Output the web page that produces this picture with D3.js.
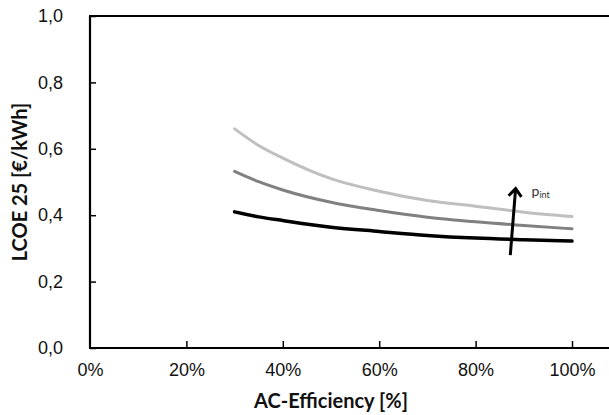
<!DOCTYPE html>
<html>
<head>
<meta charset="utf-8">
<script src="https://cdn.jsdelivr.net/npm/d3@7"></script>
<style>
  body { margin: 0; background: #fff; }
  svg { display: block; font-family: Lato, "Open Sans", sans-serif; }
</style>
</head>
<body>
<div id="chart"></div>
<script>
// AC efficiency (%) and LCOE 25 values
const efficiency = [30, 35, 40, 50, 60, 70, 80, 90, 100];
const lcoeLow  = [0.410, 0.395, 0.384, 0.364, 0.351, 0.339, 0.331, 0.326, 0.322];
const lcoeMid  = [0.532, 0.501, 0.476, 0.439, 0.414, 0.394, 0.380, 0.369, 0.359];
const lcoeHigh = [0.660, 0.610, 0.572, 0.510, 0.472, 0.444, 0.427, 0.409, 0.396];

const xTicks = [0, 20, 40, 60, 80, 100];
const yTicks = [0, 0.2, 0.4, 0.6, 0.8, 1.0];

// arrow annotation (data coordinates)
const arrowFrom = [87.2, 0.28];
const arrowTo = [88.3, 0.48];

const series = [
  { name: "low", values: lcoeLow, color: "#000000", w: 3.5 },
  { name: "mid", values: lcoeMid, color: "#808080", w: 3 },
  { name: "high", values: lcoeHigh, color: "#bfbfbf", w: 3 }
];

const W = 609, H = 415;
const margin = { top: 16, right: 37, bottom: 67, left: 90 };

const x = d3.scaleLinear().domain([0, 100]).range([margin.left, W - margin.right]);
const y = d3.scaleLinear().domain([0, 1]).range([H - margin.bottom, margin.top]);

const svg = d3.select("#chart")
  .append("svg")
  .attr("width", W)
  .attr("height", H);

const comma = d => d3.format(".1f")(d).replace(".", ",");

// x axis
const xAxis = svg.append("g")
  .attr("transform", `translate(0, ${y(0)})`)
  .call(d3.axisBottom(x).tickValues(xTicks).tickSize(-7).tickPadding(15).tickFormat(d => d + "%"));
xAxis.select(".domain").remove();
xAxis.selectAll("line").attr("stroke", "#000").attr("stroke-width", 1.5);
xAxis.selectAll("text").style("font-size", "18px").attr("fill", "#111");
xAxis.selectAll(".tick").filter(d => d === 0).select("line").remove();

// y axis
const yAxis = svg.append("g")
  .attr("transform", `translate(${x(0)}, 0)`)
  .call(d3.axisLeft(y).tickValues(yTicks).tickSize(-6).tickPadding(27).tickFormat(comma));
yAxis.select(".domain").remove();
yAxis.selectAll("line").attr("stroke", "#000").attr("stroke-width", 1.5);
yAxis.selectAll("text").style("font-size", "18px").attr("fill", "#111");

// frame lines: left, bottom, top
svg.append("line")
  .attr("x1", x(0)).attr("x2", x(0))
  .attr("y1", y(1)).attr("y2", y(0))
  .attr("stroke", "#000").attr("stroke-width", 2.2);
svg.append("line")
  .attr("x1", x(0) - 1).attr("x2", W)
  .attr("y1", y(0)).attr("y2", y(0))
  .attr("stroke", "#000").attr("stroke-width", 2.2);
svg.append("line")
  .attr("x1", x(0) - 1).attr("x2", W)
  .attr("y1", y(1)).attr("y2", y(1))
  .attr("stroke", "#000").attr("stroke-width", 2.2);

// curves
const line = d3.line()
  .x((d, i) => x(efficiency[i]))
  .y(d => y(d))
  .curve(d3.curveMonotoneX);

svg.selectAll(".curve")
  .data(series)
  .enter()
  .append("path")
  .attr("class", "curve")
  .attr("d", d => line(d.values))
  .attr("fill", "none")
  .attr("stroke", d => d.color)
  .attr("stroke-width", d => d.w)
  .attr("stroke-linecap", "round");

// arrow
const ax1 = x(arrowFrom[0]), ay1 = y(arrowFrom[1]);
const ax2 = x(arrowTo[0]), ay2 = y(arrowTo[1]);
svg.append("line")
  .attr("x1", ax1).attr("y1", ay1)
  .attr("x2", ax2).attr("y2", ay2)
  .attr("stroke", "#000").attr("stroke-width", 3);

// arrowhead as open chevron
const ang = Math.atan2(ay2 - ay1, ax2 - ax1);
const hl = 10, ha = Math.PI / 4.5;
svg.append("path")
  .attr("d", `M${ax2 - hl * Math.cos(ang - ha)},${ay2 - hl * Math.sin(ang - ha)}L${ax2},${ay2}L${ax2 - hl * Math.cos(ang + ha)},${ay2 - hl * Math.sin(ang + ha)}`)
  .attr("fill", "none")
  .attr("stroke", "#000")
  .attr("stroke-width", 3)
  .attr("stroke-linejoin", "miter");

const lbl = svg.append("text")
  .attr("x", ax2 + 16)
  .attr("y", ay2 + 7)
  .attr("fill", "#333")
  .style("font-size", "14px");
lbl.append("tspan").text("p");
lbl.append("tspan").attr("dy", 2).style("font-size", "9px").text("int");

// axis titles
svg.append("text")
  .attr("x", (x(0) + x(100)) / 2)
  .attr("y", 408)
  .attr("text-anchor", "middle")
  .attr("fill", "#111")
  .style("font-size", "20px")
  .style("font-weight", "bold")
  .text("AC-Efficiency [%]");

svg.append("text")
  .attr("transform", `translate(27, ${(y(0) + y(1)) / 2}) rotate(-90)`)
  .attr("text-anchor", "middle")
  .attr("fill", "#111")
  .style("font-size", "20px")
  .style("font-weight", "bold")
  .text("LCOE 25 [€/kWh]");
</script>
</body>
</html>
